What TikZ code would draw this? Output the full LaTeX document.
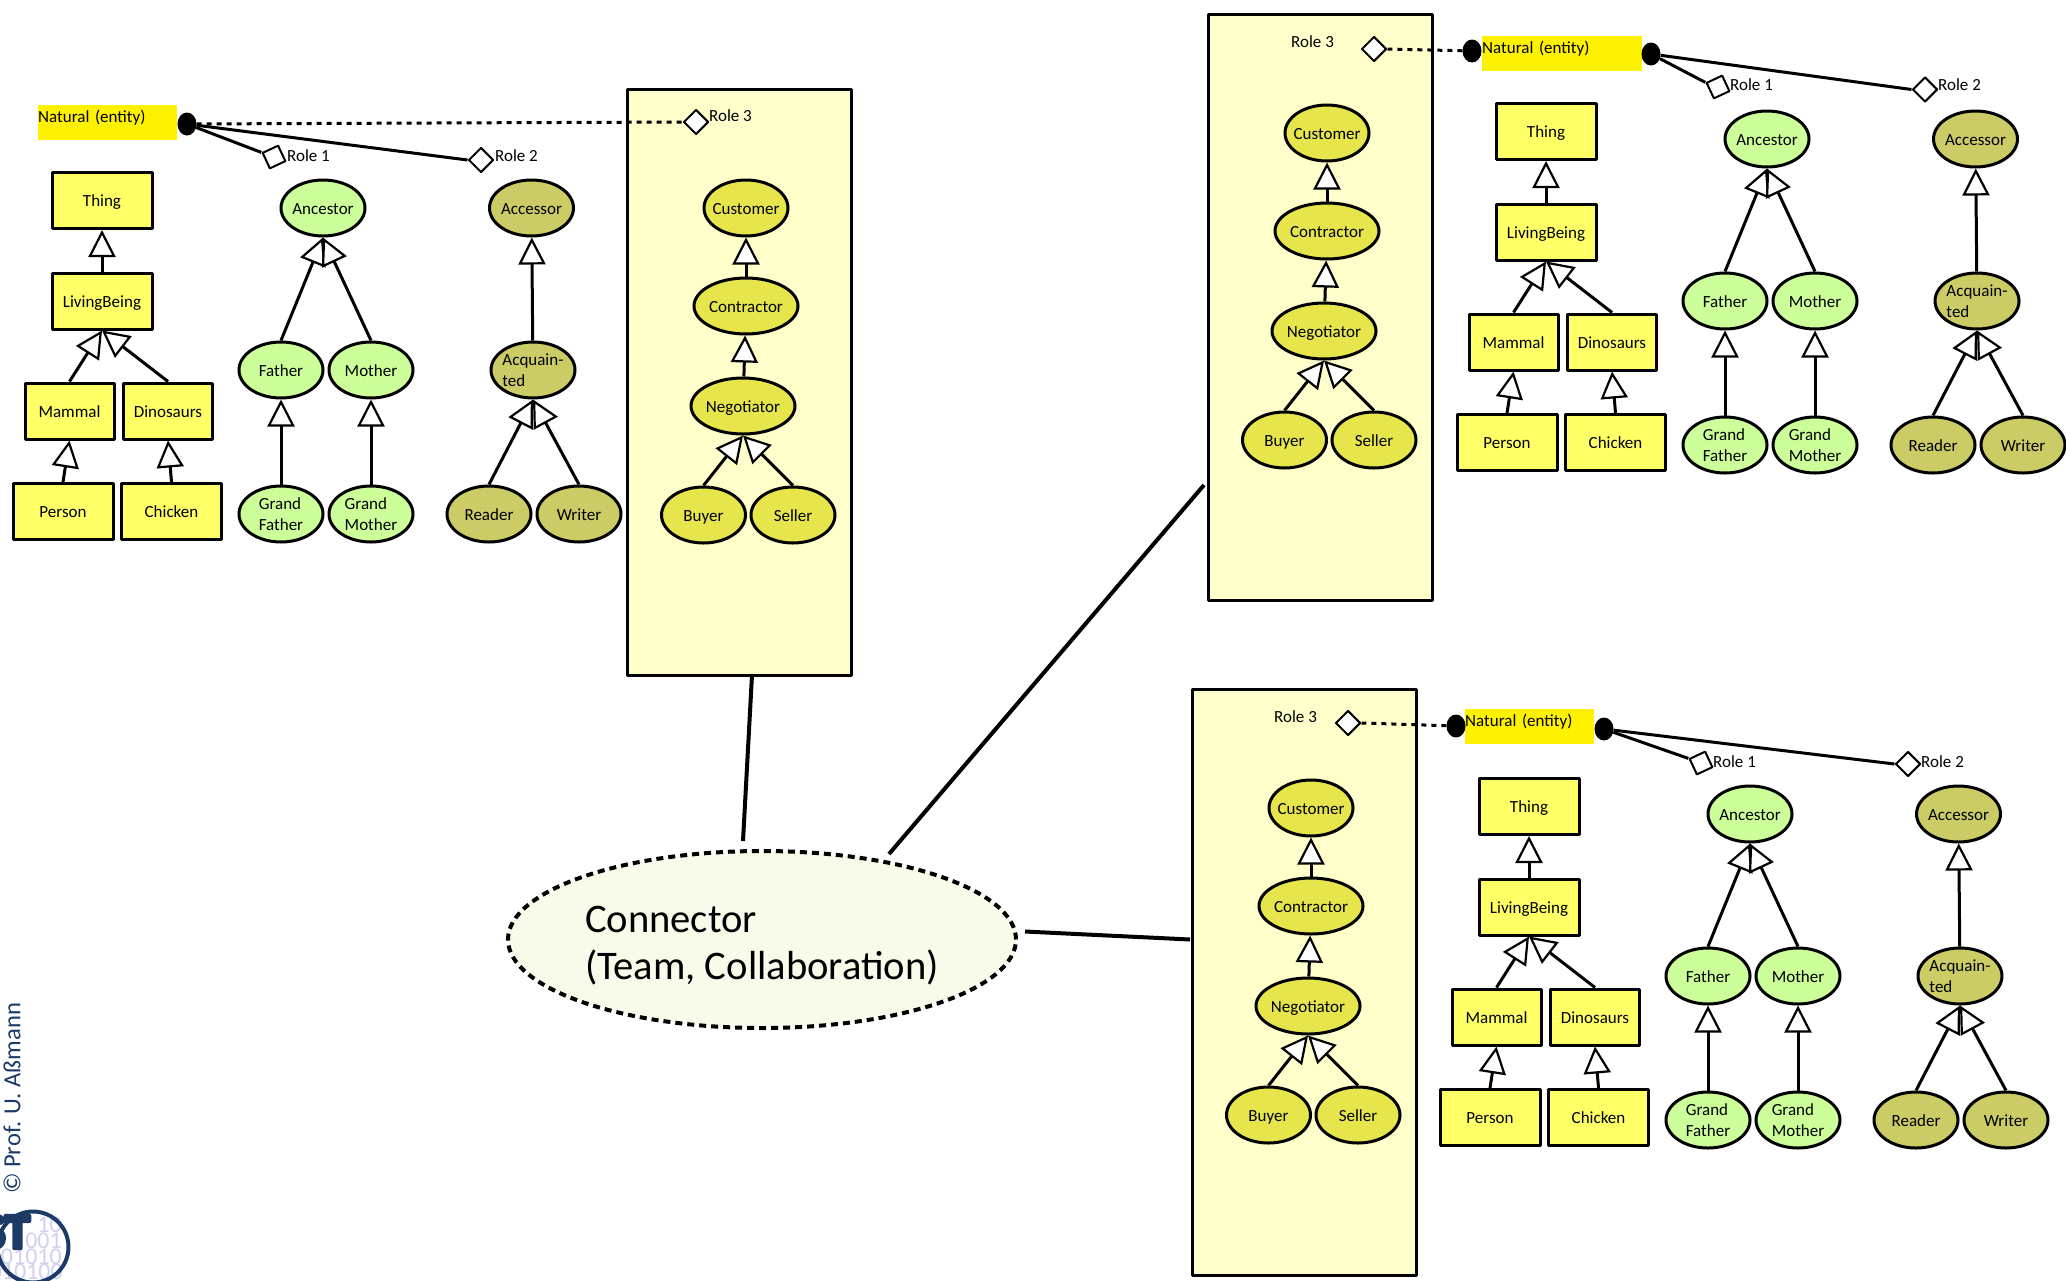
\documentclass[tikz,border=0pt]{standalone}
\usepackage{fontspec}
\setmainfont{Carlito}
\newfontfamily\logofont[FakeBold=8]{Carlito Bold}
\usetikzlibrary{arrows.meta,shapes.geometric}
\definecolor{classyellow}{HTML}{FFFF66}
\definecolor{ancgreen}{HTML}{CCFF99}
\definecolor{accolive}{HTML}{CCCC66}
\definecolor{custyellow}{HTML}{E6E64C}
\definecolor{panelyellow}{HTML}{FFFFCC}
\definecolor{connfill}{HTML}{F8FAEA}
\definecolor{logonavy}{HTML}{1B3A66}
\definecolor{logodigit}{HTML}{D0D0F0}
\tikzset{
	oneline/.style={text height=12pt,text depth=-3pt},
	twoline/.style={text height=33pt,text depth=-3pt},
	classbox/.style={draw,line width=3pt,fill=classyellow,minimum width=#1,minimum height=56pt,inner sep=0pt,oneline},
	roleell/.style={draw,line width=3pt,ellipse,fill=#1,minimum width=84pt,minimum height=56pt,inner xsep=-12pt,inner ysep=-5pt,align=left,oneline},
	wideell/.style={roleell=custyellow,minimum width=104pt},
	isa/.style={line width=3pt,-{Triangle[fill=white,length=27pt,width=27pt,line width=2.2pt]}},
	panelbox/.style={draw,line width=3pt,fill=panelyellow,minimum width=224pt,minimum height=586pt,inner sep=0pt},
	naturalbox/.style={fill=yellow,anchor=north west,inner sep=0pt,text height=17pt,text depth=18pt,text width=#1},
	roledot/.style={fill=black,ellipse,minimum width=19pt,minimum height=23pt,inner sep=0pt},
	roleport/.style={draw,line width=2pt,fill=white,diamond,aspect=1,minimum size=25pt,inner sep=0pt},
	rolelink/.style={line width=3pt},
	roledash/.style={line width=3pt,dash pattern=on 5pt off 5pt},
	rolelabel/.style={anchor=west,inner sep=0pt},
	teamlink/.style={line width=4pt},
	logodigits/.style={font=\fontsize{24}{24}\selectfont,text=logodigit,anchor=east,inner sep=0pt}
}
\begin{document}
\begin{tikzpicture}[x=1pt,y=-1pt,font=\fontsize{17}{21}\selectfont,line join=round]
	\useasboundingbox (0,0) rectangle (2066,1280);
	\foreach \grp/\px/\py/\cx/\cy in {a/0/0/0/0,b/581/-75/1444/-69,c/565/600/1427/606}{
		\begin{scope}[shift={(\px,\py)},name prefix=\grp-]
			\node[panelbox] (panel) at (739,382.5) {};
			\node[roleell=custyellow] (customer) at (746,208) {Customer};
			\node[wideell] (contractor) at (746,306) {Contractor};
			\node[wideell] (negotiator) at (743,406) {Negotiator};
			\node[roleell=custyellow] (buyer) at (703.5,515) {Buyer};
			\node[roleell=custyellow] (seller) at (793,515) {Seller};
			\draw[isa] (contractor)--(customer);
			\draw[isa] (negotiator)--(contractor);
			\draw[isa] (buyer.north)--(negotiator.south);
			\draw[isa] (seller.north)--(negotiator.south);
		\end{scope}
		\begin{scope}[shift={(\cx,\cy)},name prefix=\grp-]
			\node[classbox=100pt] (thing) at (102,200.5) {Thing};
			\node[classbox=100pt] (livingbeing) at (102,301) {LivingBeing};
			\node[classbox=89pt] (mammal) at (69.5,411) {Mammal};
			\node[classbox=89pt] (dinosaurs) at (168,411) {Dinosaurs};
			\node[classbox=100pt] (person) at (63,511.5) {Person};
			\node[classbox=100pt] (chicken) at (171.5,511.5) {Chicken};
			\draw[isa] (livingbeing)--(thing);
			\draw[isa] (mammal.north)--(livingbeing.south);
			\draw[isa] (dinosaurs.north)--(livingbeing.south);
			\draw[isa] (person.north)--(mammal.south);
			\draw[isa] (chicken.north)--(dinosaurs.south);
			\node[roleell=ancgreen] (ancestor) at (323,208) {Ancestor};
			\node[roleell=ancgreen] (father) at (281,370) {Father};
			\node[roleell=ancgreen] (mother) at (371,370) {Mother};
			\node[roleell=ancgreen,twoline] (grandfather) at (281,514) {Grand\\Father};
			\node[roleell=ancgreen,twoline] (grandmother) at (371,514) {Grand\\Mother};
			\draw[isa] (father.north)--(ancestor.south);
			\draw[isa] (mother.north)--(ancestor.south);
			\draw[isa] (grandfather)--(father);
			\draw[isa] (grandmother)--(mother);
			\node[roleell=accolive] (accessor) at (531.5,208) {Accessor};
			\node[roleell=accolive,twoline] (acquainted) at (533,370) {Acquain-\\ted};
			\node[roleell=accolive] (reader) at (489,514) {Reader};
			\node[roleell=accolive] (writer) at (579,514) {Writer};
			\draw[isa] (acquainted)--(accessor);
			\draw[isa] (reader.north)--(acquainted.south);
			\draw[isa] (writer.north)--(acquainted.south);
		\end{scope}
	}
	\node[naturalbox=139pt] (a-natural) at (38,105) {Natural (entity)};
	\node[roledot] (a-dot) at (187,124) {};
	\node[roleport,rotate=-20] (a-port1) at (274,157) {};
	\node[roleport] (a-port2) at (481,160) {};
	\node[roleport] (a-port3) at (696,122) {};
	\node[rolelabel] (a-role1) at (287,156) {Role 1};
	\node[rolelabel] (a-role2) at (495,156) {Role 2};
	\node[rolelabel] (a-role3) at (709,116) {Role 3};
	\draw[rolelink] (a-dot)--(a-port1.west);
	\draw[rolelink] (a-dot)--(a-port2.west);
	\draw[roledash] (a-dot)--(a-port3.west);
	\node[naturalbox=160pt] (b-natural) at (1482,36) {Natural (entity)};
	\node[roledot] (b-dot1) at (1472,51) {};
	\node[roledot] (b-dot2) at (1651,54) {};
	\node[roleport,rotate=-20] (b-port1) at (1718,87) {};
	\node[roleport] (b-port2) at (1925,89.5) {};
	\node[roleport] (b-port3) at (1374,49) {};
	\node[rolelabel] (b-role1) at (1730,85) {Role 1};
	\node[rolelabel] (b-role2) at (1938,85) {Role 2};
	\node[rolelabel] (b-role3) at (1291,42) {Role 3};
	\draw[rolelink] (b-dot2)--(b-port1.west);
	\draw[rolelink] (b-dot2)--(b-port2.west);
	\draw[roledash] (b-dot1)--(b-port3.east);
	\node[naturalbox=129pt] (c-natural) at (1465,709) {Natural (entity)};
	\node[roledot] (c-dot1) at (1456,726) {};
	\node[roledot] (c-dot2) at (1604,729) {};
	\node[roleport,rotate=-20] (c-port1) at (1701,763) {};
	\node[roleport] (c-port2) at (1908,764) {};
	\node[roleport] (c-port3) at (1348,723) {};
	\node[rolelabel] (c-role1) at (1713,761.5) {Role 1};
	\node[rolelabel] (c-role2) at (1921,761.5) {Role 2};
	\node[rolelabel] (c-role3) at (1274,717) {Role 3};
	\draw[rolelink] (c-dot2)--(c-port1.west);
	\draw[rolelink] (c-dot2)--(c-port2.west);
	\draw[roledash] (c-dot1)--(c-port3.east);
	\node[draw,line width=4pt,dash pattern=on 7pt off 5pt,ellipse,fill=connfill,minimum width=508pt,minimum height=177pt,inner xsep=-40pt,inner ysep=-10pt,text height=79pt,text depth=0pt,align=left,font=\fontsize{40.6}{47}\selectfont] (connector) at (762,939.5) {Connector\\(Team, Collaboration)};
	\coordinate (conn-a) at (743,841);
	\coordinate (conn-b) at (889,854);
	\coordinate (conn-c) at (1025,931.5);
	\coordinate (panel-a) at (752,675);
	\coordinate (panel-b) at (1204,485);
	\coordinate (panel-c) at (1190,939.5);
	\draw[teamlink] (conn-a)--(panel-a);
	\draw[teamlink] (conn-b)--(panel-b);
	\draw[teamlink] (conn-c)--(panel-c);
	\node[font=\fontsize{24.6}{25}\selectfont,text=logonavy,rotate=90,anchor=west,inner sep=0pt] (copyright) at (12,1194) {© Prof. U. Aßmann};
	\node[logodigits] (digits1) at (62,1225) {10};
	\node[logodigits] (digits2) at (62,1241) {001};
	\node[logodigits] (digits3) at (62,1257) {01010};
	\node[logodigits] (digits4) at (63,1272) {010100};
	\node[circle,draw=logonavy,line width=4pt,minimum size=71pt,inner sep=0pt] (logo) at (33,1247) {};
	\node[font=\fontsize{50}{50}\logofont,text=logonavy,anchor=east,inner sep=0pt] (logost) at (30,1232) {ST};
\end{tikzpicture}
\end{document}
